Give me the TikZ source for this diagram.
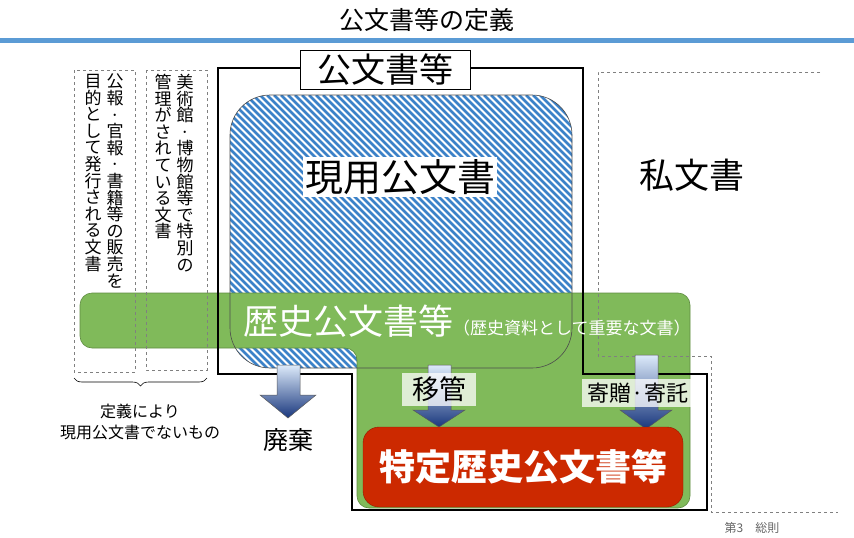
\documentclass[tikz,border=0pt]{standalone}
\usepackage{fontspec}
\setmainfont{Noto Sans CJK JP}
\usetikzlibrary{decorations.pathreplacing}
\ExplSyntaxOn
\NewDocumentCommand\vtext{m}{\tl_map_inline:nn{#1}{##1\\}}
\ExplSyntaxOff
\definecolor{gr}{RGB}{128,186,90}
\definecolor{grb}{RGB}{95,140,65}
\definecolor{red1}{RGB}{204,41,0}
\definecolor{hb}{RGB}{60,130,200}
\definecolor{tl}{RGB}{91,155,213}
\tikzset{
 vt/.style={align=center,font=\fontsize{17}{16.6}\selectfont,inner sep=0pt,anchor=north},
 dbox/.style={draw=gray,dashed,line width=0.8pt},
 barrow/.style={draw=gray!70!black,line width=0.5pt,top color={rgb,255:red,220;green,234;blue,250},bottom color={rgb,255:red,25;green,55;blue,125}},
 lbl/.style={fill=white,fill opacity=0.75,text opacity=1,inner sep=3pt},
}
\begin{document}
\begin{tikzpicture}[x=1pt,y=-1pt]
\useasboundingbox (0,0) rectangle (854,538);
\node (title) at (427,20) {\fontsize{25}{27}\selectfont 公文書等の定義};
\fill[tl] (0,38) rectangle (854,43);
% hatched
\begin{scope}
\clip[rounded corners=40] (230,95) rectangle (572,368);
\foreach \i in {-300,-293,...,580} {\draw[hb,line width=2.8pt] (\i,95) -- (\i+280,375);}
\end{scope}
% green
\path[fill=gr,draw=grb,line width=0.6pt,rounded corners=12] (80,293) -- (690,293) -- (690,508) -- (357,508) -- (357,348) -- (80,348) -- cycle;
\draw[gray!60!black,line width=0.6pt,rounded corners=40] (230,95) rectangle (572,368);
% black outline
\draw[line width=2.2pt] (218,68) -- (583,68) -- (583,374) -- (707,374) -- (707,510) -- (352,510) -- (352,374) -- (218,374) -- cycle;
\node[fill=white,draw,line width=1pt,minimum width=170pt,minimum height=36pt,font=\fontsize{34}{36}\selectfont] (kb) at (385,70) {公文書等};
\node[fill=white,inner sep=2pt,font=\fontsize{38}{40}\selectfont] (gen) at (400,177) {現用公文書};
% private
\draw[dbox] (820,72) -- (598,72) -- (598,356) -- (711,356) -- (711,512) -- (838,512);
\node[font=\fontsize{35}{37}\selectfont] (shi) at (692,175) {私文書};
% left dashed boxes
\draw[dbox] (74,70) rectangle (135,372);
\draw[dbox] (146,70) rectangle (207,370);
\node[vt] (c1) at (115,74) {\vtext{公報·官報·書籍等の販売を}};
\node[vt] (c2) at (93,74) {\vtext{目的として発行される文書}};
\node[vt] (c3) at (185,74) {\vtext{美術館·博物館等で特別の}};
\node[vt] (c4) at (163,74) {\vtext{管理がされている文書}};
\draw[decorate,decoration={brace,amplitude=8pt},line width=0.6pt] (207,378) -- (74,378);
\node[align=center,font=\fontsize{16}{21}\selectfont] (def) at (140,422) {定義により\\現用公文書でないもの};
% green text
\node[text=white,anchor=west,inner sep=0pt] (rek) at (243,321) {\fontsize{35}{37}\selectfont 歴史公文書等\fontsize{17}{18}\selectfont（歴史資料として重要な文書）};
% arrows
\path[barrow] (277,365) -- (300,365) -- (300,395) -- (316,395) -- (288,418) -- (260,395) -- (277,395) -- cycle;
\node[font=\fontsize{25}{27}\selectfont] (hai) at (288,440) {廃棄};
\path[barrow] (428,365) -- (451,365) -- (451,410) -- (465,410) -- (439,427) -- (413,410) -- (428,410) -- cycle;
\path[barrow] (635,355) -- (658,355) -- (658,410) -- (672,410) -- (646,429) -- (620,410) -- (635,410) -- cycle;
\node[lbl,minimum width=74pt,minimum height=33pt,font=\fontsize{27}{29}\selectfont] (ik) at (439,389) {移管};
\node[lbl,minimum width=113pt,minimum height=28pt,font=\fontsize{22}{24}\selectfont] (kz) at (638,393) {寄贈·寄託};
% red box
\node[fill=red1,draw=red1!70!black,rounded corners=16,minimum width=320pt,minimum height=80pt,text=white,font=\bfseries\fontsize{36}{38}\selectfont] (tok) at (523,467) {特定歴史公文書等};
\node[text=gray!80!black,font=\fontsize{12}{13}\selectfont] (foot) at (752,528) {第3\quad 総則};
\end{tikzpicture}
\end{document}
